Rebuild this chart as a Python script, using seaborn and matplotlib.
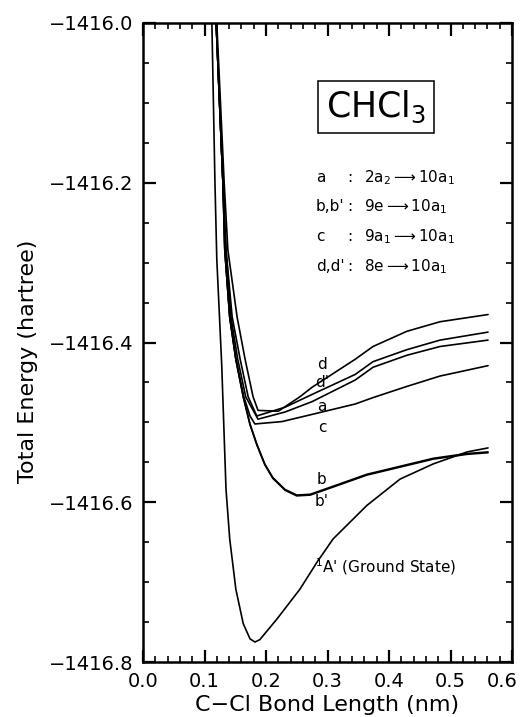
import matplotlib
matplotlib.use("Agg")
import matplotlib.pyplot as plt
import matplotlib.transforms as mtransforms
import seaborn as sns
import pandas as pd
from matplotlib.ticker import MultipleLocator, FuncFormatter

# ---------------- data ----------------
ground_x = [0.112, 0.117, 0.120, 0.128, 0.133, 0.135, 0.141, 0.151, 0.163, 0.174, 0.182,
            0.190, 0.218, 0.255, 0.283, 0.309, 0.364, 0.418, 0.472, 0.527, 0.561]
ground_y = [-1416.000, -1416.200, -1416.296, -1416.428, -1416.540, -1416.584, -1416.646,
            -1416.709, -1416.752, -1416.771, -1416.775, -1416.772, -1416.746, -1416.709,
            -1416.675, -1416.646, -1416.604, -1416.571, -1416.552, -1416.537, -1416.532]

b_x = [0.119, 0.130, 0.133, 0.141, 0.151, 0.163, 0.174, 0.185, 0.198, 0.211, 0.231, 0.250,
       0.272, 0.309, 0.364, 0.418, 0.472, 0.527, 0.561]
b_y = [-1416.000, -1416.200, -1416.284, -1416.368, -1416.421, -1416.468, -1416.502,
       -1416.527, -1416.552, -1416.569, -1416.584, -1416.591, -1416.590, -1416.580,
       -1416.565, -1416.555, -1416.545, -1416.539, -1416.537]
bp_x = [0.119, 0.130, 0.133, 0.141, 0.151, 0.163, 0.174, 0.185, 0.198, 0.211, 0.231, 0.250,
        0.272, 0.309, 0.364, 0.418, 0.472, 0.527, 0.561]
bp_y = [-1416.000, -1416.200, -1416.284, -1416.368, -1416.421, -1416.468, -1416.503,
        -1416.528, -1416.553, -1416.570, -1416.585, -1416.592, -1416.591, -1416.581,
        -1416.566, -1416.556, -1416.546, -1416.540, -1416.538]

c_x = [0.119, 0.130, 0.133, 0.141, 0.151, 0.164, 0.174, 0.182, 0.226, 0.275, 0.345, 0.374,
       0.429, 0.483, 0.561]
c_y = [-1416.000, -1416.200, -1416.284, -1416.368, -1416.421, -1416.468, -1416.492,
       -1416.502, -1416.499, -1416.490, -1416.477, -1416.469, -1416.455, -1416.442, -1416.429]

a_x = [0.119, 0.130, 0.135, 0.143, 0.154, 0.167, 0.187, 0.231, 0.275, 0.345, 0.374, 0.429,
       0.483, 0.561]
a_y = [-1416.000, -1416.200, -1416.284, -1416.368, -1416.421, -1416.468, -1416.496,
       -1416.487, -1416.474, -1416.447, -1416.431, -1416.416, -1416.405, -1416.397]

dp_x = [0.119, 0.130, 0.135, 0.145, 0.158, 0.171, 0.185, 0.231, 0.275, 0.345, 0.374, 0.429,
        0.483, 0.561]
dp_y = [-1416.000, -1416.200, -1416.284, -1416.368, -1416.421, -1416.468, -1416.492,
        -1416.481, -1416.465, -1416.440, -1416.424, -1416.409, -1416.397, -1416.387]

d_x = [0.120, 0.132, 0.138, 0.153, 0.166, 0.179, 0.187, 0.220, 0.255, 0.275, 0.345, 0.374,
       0.429, 0.483, 0.561]
d_y = [-1416.000, -1416.200, -1416.284, -1416.368, -1416.421, -1416.468, -1416.485,
       -1416.486, -1416.468, -1416.456, -1416.421, -1416.405, -1416.386, -1416.374, -1416.365]

curve_names = ["ground", "b", "b'", "c", "a", "d'", "d"]

legend_keys = ["a", "b,b'", "c", "d,d'"]
legend_trans = [r"2a$_2$$\longrightarrow$10a$_1$", r"9e$\longrightarrow$10a$_1$",
                r"9a$_1$$\longrightarrow$10a$_1$", r"8e$\longrightarrow$10a$_1$"]

curve_labels = ["d", "d'", "a", "c", "b", "b'"]
curve_label_y = [-1416.4275, -1416.450, -1416.480, -1416.506, -1416.571, -1416.599]

x_ticks = [0.0, 0.1, 0.2, 0.3, 0.4, 0.5, 0.6]
y_ticks = [-1416.8, -1416.6, -1416.4, -1416.2, -1416.0]

# ---------------- build table ----------------
xs = [ground_x, b_x, bp_x, c_x, a_x, dp_x, d_x]
ys = [ground_y, b_y, bp_y, c_y, a_y, dp_y, d_y]
rows = []
for name, cx, cy in zip(curve_names, xs, ys):
    for i, (xv, yv) in enumerate(zip(cx, cy)):
        rows.append({"curve": name, "order": i, "x": xv, "y": yv})
df = pd.DataFrame(rows)

sns.set_style("ticks")
plt.rcParams["font.family"] = ["DejaVu Sans"]
plt.rcParams["mathtext.fontset"] = "dejavusans"
plt.rcParams["text.color"] = "black"
plt.rcParams["axes.labelcolor"] = "black"
plt.rcParams["xtick.color"] = "black"
plt.rcParams["ytick.color"] = "black"

fig = plt.figure(figsize=(5.2, 7.17), dpi=100)
ax = fig.add_axes([143 / 520, 55 / 717, (512 - 143) / 520, (662 - 23) / 717])

sns.lineplot(data=df, x="x", y="y", units="curve", estimator=None, sort=False,
             color="black", lw=1.2, ax=ax, legend=False)

ax.set_xlim(0, 0.6)
ax.set_ylim(-1416.8, -1416.0)
ax.set_xticks(x_ticks)
ax.set_yticks(y_ticks)
ax.xaxis.set_minor_locator(MultipleLocator(0.02))
ax.yaxis.set_minor_locator(MultipleLocator(0.05))
ax.xaxis.set_major_formatter(FuncFormatter(lambda v, p: f"{v:.1f}"))
ax.yaxis.set_major_formatter(FuncFormatter(lambda v, p: f"{v:.1f}".replace("-", "\u2212")))

ax.tick_params(which="both", direction="in", top=True, right=True, colors="black",
               labelcolor="black")
ax.tick_params(which="major", length=9, width=1.6, labelsize=14, pad=7)
ax.tick_params(which="minor", length=4.5, width=1.2)
for sp in ax.spines.values():
    sp.set_linewidth(1.8)
    sp.set_color("black")

# shift the last x tick label left so it stays inside the figure
fig.canvas.draw()
xlabels = ax.get_xticklabels()
shift = mtransforms.ScaledTranslation(-10 / 100, 0, fig.dpi_scale_trans)
xlabels[-1].set_transform(xlabels[-1].get_transform() + shift)

ax.set_xlabel("C\u2212Cl Bond Length (nm)", fontsize=16, labelpad=3)
ax.set_ylabel("Total Energy (hartree)", fontsize=16)
ax.yaxis.set_label_coords(-0.285, 0.47)

# compound box
ax.text(0.379, -1416.105, r"CHCl$_3$", fontsize=25, ha="center", va="center",
        bbox=dict(boxstyle="square,pad=0.22", fc="white", ec="black", lw=1.1))

# transition legend
leg_y = [-1416.194, -1416.230, -1416.2675, -1416.305]
for k, t, yy in zip(legend_keys, legend_trans, leg_y):
    ax.text(0.281, yy, k, fontsize=11, ha="left", va="center")
    ax.text(0.337, yy, ":", fontsize=11, ha="center", va="center")
    ax.text(0.359, yy, t, fontsize=11, ha="left", va="center")

for lab, yy in zip(curve_labels, curve_label_y):
    ax.text(0.291, yy, lab, fontsize=11, ha="center", va="center")

ax.text(0.280, -1416.681, r"$^1$A' (Ground State)", fontsize=11, ha="left", va="center")

fig.savefig("out.png", dpi=100)
